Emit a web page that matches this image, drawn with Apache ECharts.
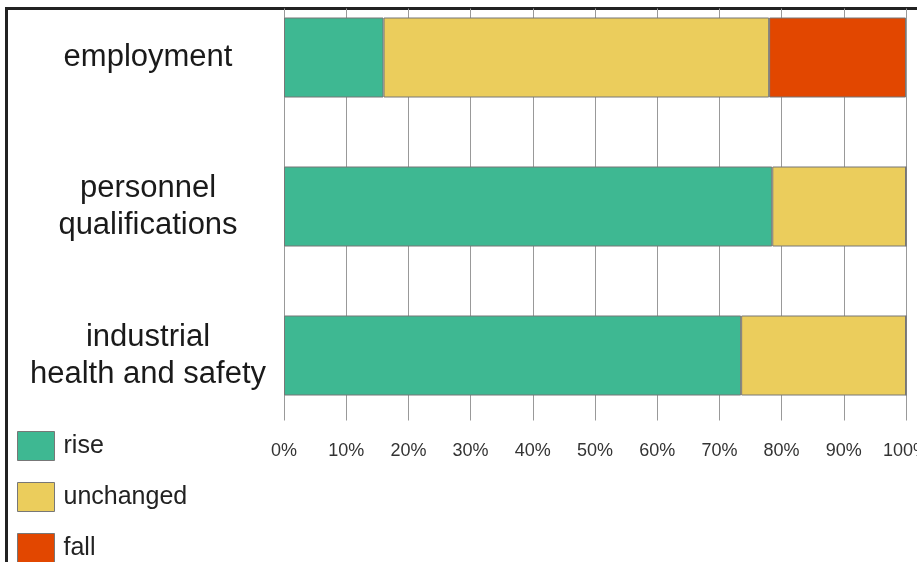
<!DOCTYPE html>
<html>
<head>
<meta charset="utf-8">
<script src="https://cdn.jsdelivr.net/npm/echarts@6/dist/echarts.min.js"></script>
<style>html,body{margin:0;padding:0;background:#fff;}#chart{width:917px;height:562px;}</style>
</head>
<body>
<div id="chart"></div>
<script>
const categories = ['employment', 'personnel\nqualifications', 'industrial\nhealth and safety'];
const riseValues = [16, 78.5, 73.5];
const unchangedValues = [62, 21.5, 26.5];
const fallValues = [22, 0, 0];
const tickValues = [0, 10, 20, 30, 40, 50, 60, 70, 80, 90, 100];
const seriesNames = ['rise', 'unchanged', 'fall'];

const colors = ['#3eb892', '#ebcd5c', '#e24700'];
const chart = echarts.init(document.getElementById('chart'));
const valuesList = [riseValues, unchangedValues, fallValues];

chart.setOption({
  animation: false,
  backgroundColor: '#fff',
  textStyle: { fontFamily: 'Liberation Sans, Arial, sans-serif' },
  graphic: [{
    type: 'polyline',
    shape: { points: [[6.5, 562], [6.5, 8.5], [917, 8.5]] },
    style: { stroke: '#222', lineWidth: 3, fill: null }
  }],
  legend: {
    orient: 'vertical',
    left: 12, top: 426, height: 220,
    itemWidth: 37, itemHeight: 29, itemGap: 21,
    icon: 'rect',
    data: seriesNames,
    textStyle: { fontSize: 25, color: '#222', padding: [0, 0, 0, 4] },
    itemStyle: { borderColor: '#777', borderWidth: 1 }
  },
  grid: [
    { left: 284, right: 11, top: -17, height: 447, outerBoundsMode: 'none', containLabel: false },
    { left: 284, right: 11, top: 8.5, height: 412, outerBoundsMode: 'none', containLabel: false }
  ],
  xAxis: [
    { gridIndex: 0, type: 'value', min: 0, max: 100, show: false },
    {
      gridIndex: 1, type: 'value', min: 0, max: 100, interval: 10,
      axisLine: { show: false }, axisTick: { show: false },
      splitLine: { show: true, lineStyle: { color: '#999', width: 1 } },
      axisLabel: { fontSize: 18, color: '#333', margin: 22, hideOverlap: false,
        formatter: v => tickValues.includes(v) ? v + '%' : '' }
    }
  ],
  yAxis: [
    {
      gridIndex: 0, type: 'category', data: categories, inverse: true,
      axisLine: { show: false }, axisTick: { show: false },
      axisLabel: { fontSize: 31, color: '#1a1a1a', align: 'center', margin: 136, lineHeight: 37, padding: [6, 0, 0, 0] }
    },
    { gridIndex: 1, type: 'category', data: categories, show: false }
  ],
  series: seriesNames.map((name, i) => ({
    name, type: 'bar', stack: 'total', xAxisIndex: 0, yAxisIndex: 0,
    barWidth: 80, z: 3,
    itemStyle: { color: colors[i], borderColor: '#777', borderWidth: 1 },
    data: valuesList[i]
  }))
});
</script>
</body>
</html>
